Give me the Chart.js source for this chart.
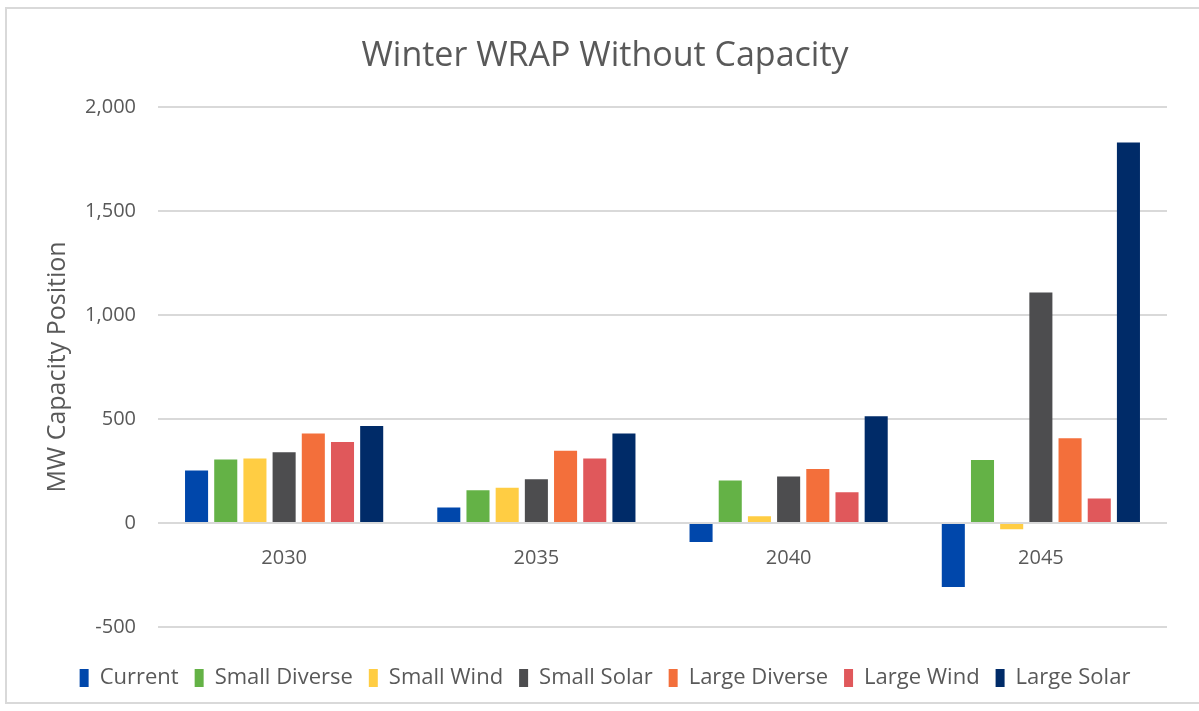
<!DOCTYPE html>
<html lang="en">
<head>
    <meta charset="UTF-8">
    <title>Winter WRAP Without Capacity</title>
    <script src="https://cdn.jsdelivr.net/npm/chart.js"></script>
    <style>
        body {
            margin: 0;
            background: #ffffff;
        }
        .chart-frame {
            position: absolute;
            left: 5px;
            top: 7px;
            width: 1200px;
            height: 697px;
            border: 2px solid #d9d9d9;
            box-sizing: border-box;
        }
        #wrapChart {
            position: absolute;
            left: 0;
            top: 0;
        }
    </style>
</head>
<body>
    <div class="chart-frame">
        <canvas id="wrapChart" width="1194" height="693"></canvas>
    </div>

    <script>
        // Study years and portfolio results (MW)
        const years = ['2030', '2035', '2040', '2045'];
        const current       = [252, 74, -91, -308];
        const smallDiverse  = [305, 157, 204, 303];
        const smallWind     = [310, 169, 32, -30];
        const smallSolar    = [340, 210, 223, 1107];
        const largeDiverse  = [430, 347, 259, 407];
        const largeWind     = [389, 310, 148, 117];
        const largeSolar    = [466, 430, 513, 1828];
        const yTicks = [-500, 0, 500, 1000, 1500, 2000];

        const textColor = '#595959';
        const fontFamily = '"Open Sans", "Noto Sans", sans-serif';

        const series = [
            { label: 'Current',       data: current,      color: '#0047ab' },
            { label: 'Small Diverse', data: smallDiverse, color: '#64b246' },
            { label: 'Small Wind',    data: smallWind,    color: '#ffcd43' },
            { label: 'Small Solar',   data: smallSolar,   color: '#4d4d4f' },
            { label: 'Large Diverse', data: largeDiverse, color: '#f36f3b' },
            { label: 'Large Wind',    data: largeWind,    color: '#e0585b' },
            { label: 'Large Solar',   data: largeSolar,   color: '#002b68' }
        ];

        new Chart(document.getElementById('wrapChart'), {
            type: 'bar',
            data: {
                labels: years,
                datasets: series.map(s => ({
                    label: s.label,
                    data: s.data,
                    backgroundColor: s.color,
                    borderWidth: 0,
                    categoryPercentage: 0.81,
                    barPercentage: 0.79
                }))
            },
            options: {
                responsive: false,
                animation: false,
                layout: {
                    padding: { left: 36, right: 34, top: 10, bottom: 3 }
                },
                plugins: {
                    title: {
                        display: true,
                        text: 'Winter WRAP Without Capacity',
                        color: textColor,
                        font: { family: fontFamily, size: 34, weight: 'normal' },
                        padding: { top: 17, bottom: 30 }
                    },
                    legend: {
                        position: 'bottom',
                        // empty legend title just opens a gap above the items
                        title: {
                            display: true,
                            text: '',
                            font: { size: 10 },
                            padding: 6
                        },
                        labels: {
                            color: textColor,
                            font: { family: fontFamily, size: 22 },
                            boxWidth: 9,
                            boxHeight: 18,
                            padding: 16
                        }
                    },
                    tooltip: { enabled: false }
                },
                scales: {
                    x: {
                        position: { y: 0 },
                        grid: { display: false },
                        border: { display: false },
                        ticks: {
                            color: textColor,
                            font: { family: fontFamily, size: 20 },
                            padding: 15
                        }
                    },
                    y: {
                        min: -500,
                        max: 2000,
                        afterBuildTicks: axis => {
                            axis.ticks = yTicks.map(v => ({ value: v }));
                        },
                        // fixed axis width so the plot starts where the labels end
                        afterFit: axis => {
                            axis.width = 115;
                        },
                        grid: {
                            color: '#d9d9d9',
                            lineWidth: 2,
                            drawTicks: false
                        },
                        border: { display: false },
                        ticks: {
                            color: textColor,
                            font: { family: fontFamily, size: 20 },
                            padding: 22,
                            callback: v => v.toLocaleString('en-US')
                        },
                        title: {
                            display: true,
                            text: 'MW Capacity Position',
                            color: textColor,
                            font: { family: fontFamily, size: 25 },
                            padding: { top: 0, bottom: 10 }
                        }
                    }
                }
            }
        });
    </script>
</body>
</html>
